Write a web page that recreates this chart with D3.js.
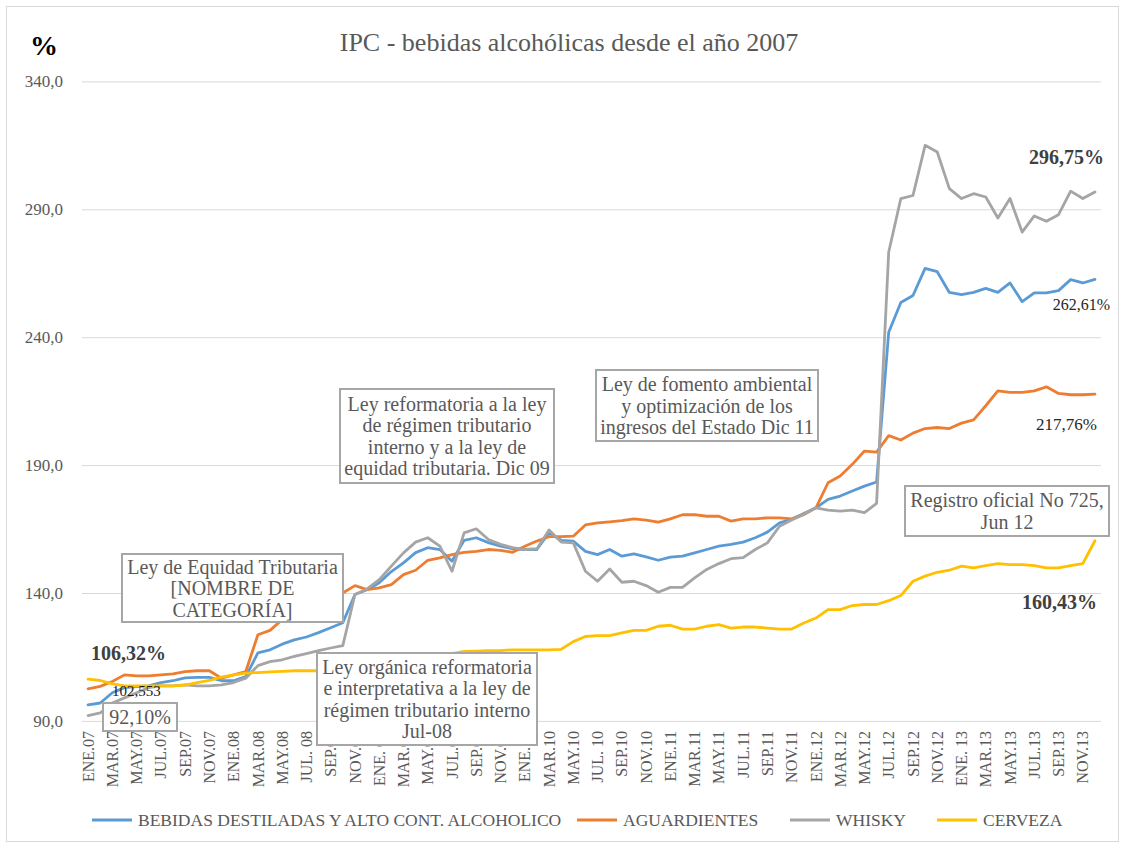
<!DOCTYPE html>
<html>
<head>
<meta charset="utf-8">
<script src="https://cdn.jsdelivr.net/npm/d3@7/dist/d3.min.js"></script>
<style>
  html, body { margin: 0; padding: 0; background: #fff; }
  svg { display: block; }
  svg text { font-family: "Liberation Serif", "Times New Roman", Times, "DejaVu Serif", serif !important; }
</style>
</head>
<body>
<svg id="chart" width="1125" height="848"></svg>
<script>
// ---------- DATA ----------
const monthNames = ["ENE","FEB","MAR","ABR","MAY","JUN","JUL","AGO","SEP","OCT","NOV","DIC"];
const years = ["07","08","09","10","11","12","13"];
const categories = years.flatMap(y => monthNames.map(m => m + "." + y));

const tickLabels = ["ENE.07","MAR.07","MAY.07","JUL.07","SEP.07","NOV.07",
  "ENE.08","MAR.08","MAY.08","JUL. 08","SEP.08","NOV.08",
  "ENE. 09","MAR.09","MAY.09","JUL.09","SEP.09","NOV.09",
  "ENE.10","MAR.10","MAY.10","JUL. 10","SEP.10","NOV.10",
  "ENE.11","MAR.11","MAY.11","JUL.11","SEP.11","NOV.11",
  "ENE.12","MAR.12","MAY.12","JUL.12","SEP.12","NOV.12",
  "ENE. 13","MAR.13","MAY.13","JUL.13","SEP.13","NOV.13"];

const yTicks = [90, 140, 190, 240, 290, 340];

const destiladas = [96.3,97,101,103,103.4,103.7,105,105.7,106.8,107,107,105.7,
  105.7,107.3,116.6,117.8,120,121.7,122.8,124.5,126.4,128.4,139.4,141.3,
  144,148.4,151.8,155.8,157.7,157,152.4,160.6,161.6,159.7,158.3,157.3,
  157,157,163.6,160.6,160.3,156.3,155,157,154.4,155.3,154.1,152.8,
  154,154.4,155.7,157,158.3,159,159.9,161.6,163.8,167.4,168.8,171.1,
  173.3,176.6,177.9,179.9,181.8,183.4,241.9,253.6,256.3,266.9,265.6,257.5,
  256.6,257.5,259.1,257.5,261.2,253.9,257.3,257.3,258.2,262.5,261.2,262.61];

const aguardientes = [102.55,103.5,105.4,108,107.6,107.6,108,108.4,109.3,109.6,109.6,106.7,
  108,109.3,123.7,125.4,129.6,131.5,134,136,139,140,142.9,141.3,
  142,143.3,147.2,148.9,152.8,153.7,155,155.9,156.3,157,156.7,155.9,
  158.3,160.3,162,162,162.2,166.6,167.4,167.8,168.3,169,168.5,167.7,
  169,170.6,170.6,170,170,168.1,169,169,169.4,169.4,169,170.7,
  173.3,183.1,185.7,190.3,195.5,195.1,201.5,199.8,202.5,204.3,204.7,204.3,
  206.4,207.7,213.2,219,218.4,218.4,219,220.6,218,217.5,217.5,217.76];

const whisky = [92.1,93.1,97,99,101,103,103.7,103.7,104.1,103.7,103.7,104.1,
  105,106.7,111.6,113.2,113.9,115.2,116.3,117.5,118.5,119.4,139.4,141.6,
  145.2,150.5,155.7,159.9,161.6,158.3,148.5,163.5,165.1,160.9,159,157.7,
  157,157.3,164.6,159.9,159.6,148.5,144.6,149.4,144.2,144.6,142.9,140.3,
  142.2,142.2,145.9,149.2,151.5,153.4,153.8,157,159.6,166.1,168.5,170.7,
  173.3,172.4,172,172.4,171.4,175,273.3,294.2,295.4,315,312.4,298.1,
  294.2,296.1,294.8,286.6,294.2,281.1,287.4,285.3,287.9,297.1,294.2,296.75];

const cerveza = [106.32,105.8,104.5,103.7,103.7,103.7,103.7,103.7,104,105,105.8,107.1,
  108,108.7,108.9,109.2,109.4,109.6,109.6,109.6,110,110.5,111.5,112.5,
  113.5,114,114.5,115,115.5,116,116.3,117.2,117.3,117.5,117.5,117.8,
  117.8,117.8,117.8,118,121,123,123.3,123.3,124.4,125.4,125.4,127,
  127.4,125.9,125.9,127,127.6,126.3,126.7,126.7,126.3,125.9,125.9,128.3,
  130.2,133.5,133.5,135.1,135.5,135.5,137,139,144.6,146.6,148.1,148.9,
  150.5,149.8,150.7,151.5,151.1,151.1,150.7,149.8,149.8,150.7,151.5,160.43];

const seriesNames = ["BEBIDAS DESTILADAS Y ALTO CONT. ALCOHOLICO","AGUARDIENTES","WHISKY","CERVEZA"];
const seriesValues = [destiladas, aguardientes, whisky, cerveza];
const seriesColors = ["#5B9BD5","#ED7D31","#A5A5A5","#FFC000"];

const titleText = "IPC - bebidas alcohólicas desde el año 2007";

const annotations = [
  {lines:["Ley de Equidad Tributaria","[NOMBRE DE","CATEGORÍA]"], box:[122,554,343,622]},
  {lines:["Ley reformatoria a la ley","de régimen tributario","interno y a la ley de","equidad tributaria. Dic 09"], box:[340,389,554,483]},
  {lines:["Ley de fomento ambiental","y optimización de los","ingresos del Estado Dic 11"], box:[596,370,818,441]},
  {lines:["Registro oficial No 725,","Jun 12"], box:[905,486,1109,536]},
  {lines:["Ley orgánica reformatoria","e interpretativa a la ley de","régimen tributario interno","Jul-08"], box:[317,653,537,745]}
];

// ---------- CHART ----------
const FONT = "'Liberation Serif', 'Times New Roman', Times, 'DejaVu Serif', serif";
const svg = d3.select("#chart").attr("font-family", FONT);
const W = 1125, H = 848;
const plot = {left: 82, right: 1101, top: 81.4, bottom: 720.9};

svg.append("rect").attr("x", 6.5).attr("y", 6.5).attr("width", W - 13).attr("height", H - 13)
  .attr("fill", "#fff").attr("stroke", "#d9d9d9").attr("stroke-width", 1);

const x = d3.scaleBand().domain(categories).range([plot.left, plot.right]);
const y = d3.scaleLinear().domain([90, 340]).range([plot.bottom, plot.top]);
const cx = d => x(d) + x.bandwidth() / 2;

// Y axis + gridlines
const yAxis = svg.append("g").attr("transform", `translate(${plot.left},0)`)
  .call(d3.axisLeft(y).tickValues(yTicks)
    .tickSize(-(plot.right - plot.left)).tickPadding(19)
    .tickFormat(d => d3.format(".1f")(d).replace(".", ",")));
yAxis.attr("font-family", FONT);
yAxis.select(".domain").remove();
yAxis.selectAll(".tick line").attr("stroke", "#d9d9d9").attr("stroke-width", 1);
yAxis.selectAll(".tick text").attr("fill", "#595959").style("font-size", "17px");

// X axis
const xAxis = svg.append("g").attr("transform", `translate(0,${plot.bottom})`)
  .call(d3.axisBottom(x)
    .tickValues(categories.filter((d, i) => i % 2 === 0))
    .tickSize(0)
    .tickFormat((d, i) => tickLabels[i]));
xAxis.attr("font-family", FONT);
xAxis.select(".domain").remove();
xAxis.selectAll(".tick text")
  .attr("transform", "rotate(-90)")
  .attr("x", -10).attr("y", 0).attr("dy", "0.35em")
  .style("text-anchor", "end")
  .attr("fill", "#595959").style("font-size", "16px");

// Lines
const line = d3.line().x((d, i) => cx(categories[i])).y(d => y(d));
seriesValues.forEach((vals, k) => {
  svg.append("path").datum(vals)
    .attr("d", line)
    .attr("fill", "none")
    .attr("stroke", seriesColors[k])
    .attr("stroke-width", 2.8)
    .attr("stroke-linejoin", "round")
    .attr("stroke-linecap", "round");
});

// Annotation boxes
annotations.forEach(a => {
  const [x0, y0, x1, y1] = a.box;
  const g = svg.append("g");
  g.append("rect").attr("x", x0).attr("y", y0).attr("width", x1 - x0).attr("height", y1 - y0)
    .attr("fill", "#fff").attr("stroke", "#a6a6a6").attr("stroke-width", 2);
  const lh = 21.5;
  const n = a.lines.length;
  const midY = (y0 + y1) / 2;
  a.lines.forEach((t, i) => {
    g.append("text").attr("x", (x0 + x1) / 2).attr("y", midY + (i - (n - 1) / 2) * lh)
      .attr("dy", "0.35em").attr("text-anchor", "middle")
      .attr("fill", "#595959").style("font-size", "20px").text(t);
  });
});

// Data labels
const lab = (tx, ty, t, opts = {}) => svg.append("text").attr("x", tx).attr("y", ty).attr("dy", "0.35em")
  .attr("text-anchor", opts.anchor || "start")
  .attr("fill", opts.fill || "#404040")
  .style("font-size", (opts.size || 17) + "px")
  .style("font-weight", opts.bold ? "bold" : "normal").text(t);

// 92,10% boxed
svg.append("rect").attr("x", 103).attr("y", 703).attr("width", 74).attr("height", 28)
  .attr("fill", "#fff").attr("stroke", "#a6a6a6").attr("stroke-width", 2);
lab(140, 717, "92,10%", {anchor: "middle", size: 20, fill: "#595959"});
lab(91, 653, "106,32%", {bold: true, size: 20});
lab(112, 691, "102,553", {size: 15, fill: "#1a1a1a"});
lab(1104, 157, "296,75%", {bold: true, size: 20, anchor: "end"});
lab(1110, 304, "262,61%", {size: 16, anchor: "end", fill: "#262626"});
lab(1097, 424, "217,76%", {size: 17, anchor: "end", fill: "#262626"});
lab(1097, 602, "160,43%", {bold: true, size: 20, anchor: "end"});

// Title and unit
svg.append("text").attr("x", 569).attr("y", 42).attr("dy", "0.35em").attr("text-anchor", "middle")
  .attr("fill", "#595959").style("font-size", "26px").text(titleText);
svg.append("text").attr("x", 44).attr("y", 45).attr("dy", "0.35em").attr("text-anchor", "middle")
  .attr("fill", "#000").style("font-size", "28px").style("font-weight", "bold").text("%");

// Legend
const legendPos = [92, 577, 790, 937];
const legend = svg.append("g");
seriesNames.forEach((name, k) => {
  const lx = legendPos[k];
  legend.append("line").attr("x1", lx).attr("x2", lx + 40).attr("y1", 820).attr("y2", 820)
    .attr("stroke", seriesColors[k]).attr("stroke-width", 3);
  legend.append("text").attr("x", lx + 46).attr("y", 820).attr("dy", "0.35em")
    .attr("fill", "#595959").style("font-size", "17.5px").text(name);
});
</script>
</body>
</html>
